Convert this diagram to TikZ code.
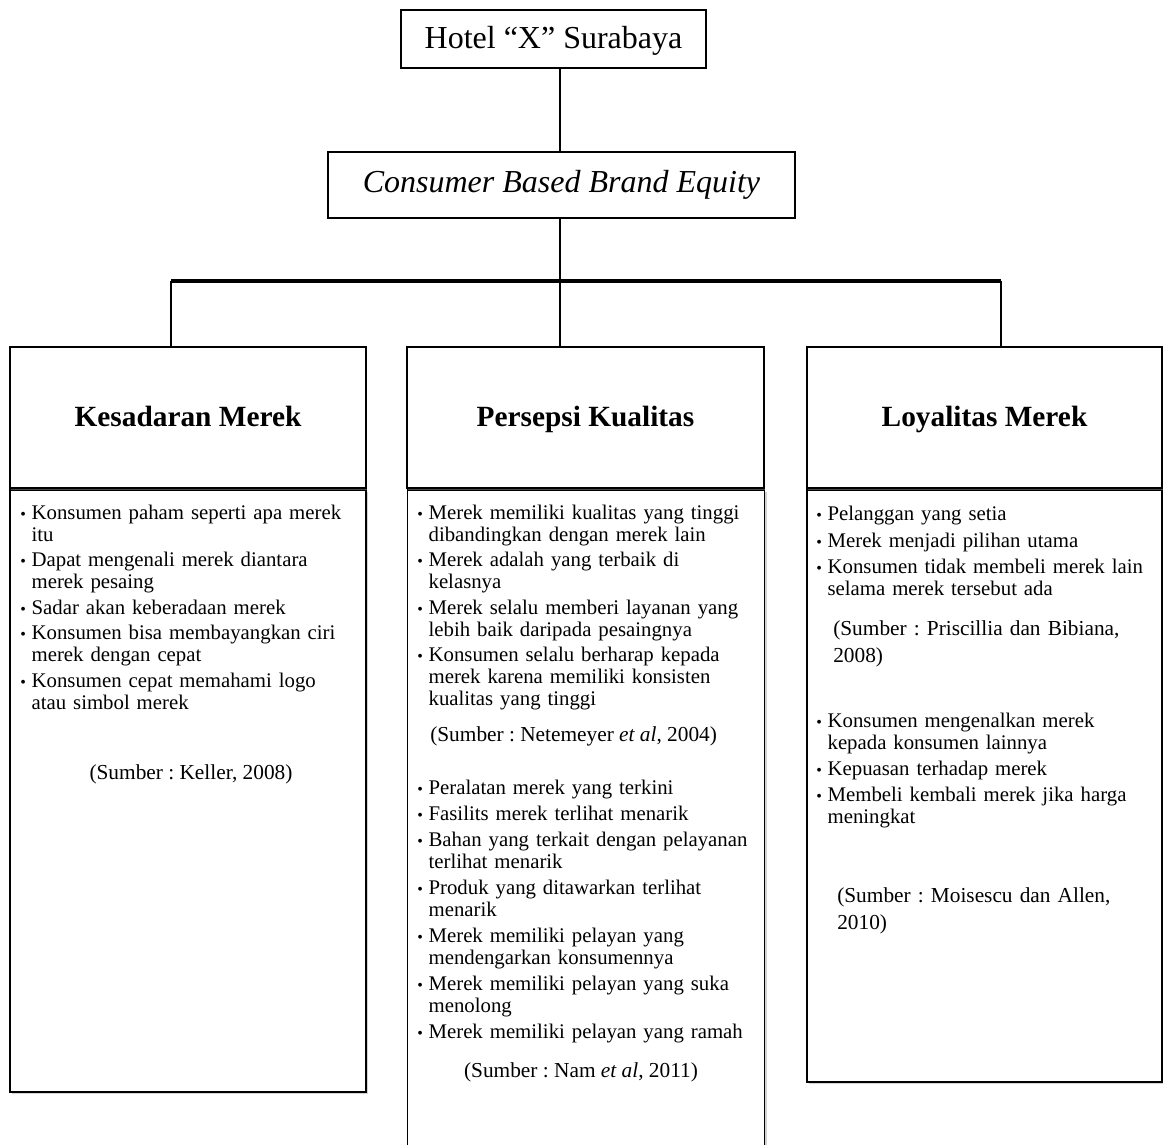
\documentclass[tikz,border=0pt]{standalone}
\usepackage{fontspec}
\setmainfont{Liberation Serif}
\frenchspacing
\usetikzlibrary{shadows}
\tikzset{ top_box/.style = {rectangle, draw, line width=1pt, inner sep=0pt, font=\fontsize{24}{28}\selectfont} }
\tikzset{ dim_head/.style = {rectangle, draw, line width=1.1pt, fill=white, minimum height=105.75pt, text height=19.2pt, text depth=5pt, font=\fontsize{22}{26}\selectfont\bfseries, drop shadow={shadow xshift=1pt, shadow yshift=-1.5pt, fill=black!45}} }
\tikzset{ dim_body/.style = {rectangle, draw, line width=1pt, fill=white, drop shadow={shadow xshift=1.5pt, shadow yshift=-1.5pt, fill=black!35}} }
\tikzset{ ind_list/.style = {anchor=north west, inner sep=0pt, text width=255pt, align=left, font=\fontsize{15.6}{16.5}\selectfont} }
\tikzset{ src_note/.style = {inner sep=0pt, font=\fontsize{16}{20}\selectfont} }
\tikzset{ link/.style = {line width=2.2pt} }
\tikzset{ bar/.style = {line width=3.5pt} }
\newcommand{\bul}[1]{\par\hangindent=8.5pt\hangafter=1\noindent\strut\makebox[8.5pt][l]{\fontsize{12}{12}\selectfont\textbullet}#1\par}

\begin{document}
\begin{tikzpicture}[x=0.75pt, y=-0.75pt]
    \useasboundingbox (0,0) rectangle (1163,1145);
    % top of the tree
    \node[top_box, minimum width=228.75pt, minimum height=43.5pt, text height=20pt, text depth=5pt] (hotel) at (553.5,39) {Hotel “X” Surabaya};
    \node[top_box, minimum width=350.25pt, minimum height=49.5pt] (cbbe) at (561.5,185) {\textit{Consumer Based Brand Equity}};
    % body boxes
    \node[dim_body, minimum width=267pt, minimum height=451.5pt] (kes_body) at (188,791) {};
    \node[dim_body, minimum width=267.75pt, minimum height=496.5pt] (per_body) at (586,821) {};
    \node[dim_body, minimum width=266.25pt, minimum height=444pt] (loy_body) at (984.5,786) {};
    % dimension heads
    \node[dim_head, minimum width=267pt] (kes) at (188,417.5) {Kesadaran Merek};
    \node[dim_head, minimum width=267.75pt] (per) at (585.5,417.5) {Persepsi Kualitas};
    \node[dim_head, minimum width=266.25pt] (loy) at (984.5,417.5) {Loyalitas Merek};
    % connectors
    \coordinate (bar_l) at (171,281);
    \coordinate (bar_m) at (560,281);
    \coordinate (bar_r) at (1001,281);
    \draw[link] (bar_m |- hotel.south) -- (bar_m |- cbbe.north);
    \draw[link] (bar_m |- cbbe.south) -- (bar_m);
    \draw[bar] (bar_l) -- (bar_r);
    \draw[link] (bar_l) -- (bar_l |- kes.north);
    \draw[link] (bar_m) -- (bar_m |- per.north);
    \draw[link] (bar_r) -- (bar_r |- loy.north);
    % indicators
    \node[ind_list] (kes_list) at (20,493.5) {\setlength{\parskip}{2.6pt}%
        \bul{Konsumen paham seperti apa merek\newline itu}
        \bul{Dapat mengenali merek diantara\newline merek pesaing}
        \bul{Sadar akan keberadaan merek}
        \bul{Konsumen bisa membayangkan ciri\newline merek dengan cepat}
        \bul{Konsumen cepat memahami logo\newline atau simbol merek}};
    \node[src_note, anchor=base] (kes_src) at (191,779) {(Sumber : Keller, 2008)};
    \node[ind_list] (per_list_a) at (417,493.5) {\setlength{\parskip}{2.6pt}%
        \bul{Merek memiliki kualitas yang tinggi\newline dibandingkan dengan merek lain}
        \bul{Merek adalah yang terbaik di\newline kelasnya}
        \bul{Merek selalu memberi layanan yang\newline lebih baik daripada pesaingnya}
        \bul{Konsumen selalu berharap kepada\newline merek karena memiliki konsisten\newline kualitas yang tinggi}};
    \node[src_note, anchor=base west] (per_src_a) at (430,741) {(Sumber : Netemeyer \textit{et al}, 2004)};
    \node[ind_list] (per_list_b) at (417,768) {\setlength{\parskip}{3pt}%
        \bul{Peralatan merek yang terkini}
        \bul{Fasilits merek terlihat menarik}
        \bul{Bahan yang terkait dengan pelayanan\newline terlihat menarik}
        \bul{Produk yang ditawarkan terlihat\newline menarik}
        \bul{Merek memiliki pelayan yang\newline mendengarkan konsumennya}
        \bul{Merek memiliki pelayan yang suka\newline menolong}
        \bul{Merek memiliki pelayan yang ramah}};
    \node[src_note, anchor=base] (per_src_b) at (581,1077) {(Sumber : Nam \textit{et al}, 2011)};
    \node[ind_list] (loy_list_a) at (816,493.5) {\setlength{\parskip}{3.5pt}%
        \bul{Pelanggan yang setia}
        \bul{Merek menjadi pilihan utama}
        \bul{Konsumen tidak membeli merek lain\newline selama merek tersebut ada}};
    \node[src_note, anchor=north west, text width=240pt, align=left] (loy_src_a) at (833,617) {\strut(Sumber : Priscillia dan Bibiana,\newline 2008)};
    \node[ind_list] (loy_list_b) at (816,701) {\setlength{\parskip}{3pt}%
        \bul{Konsumen mengenalkan merek\newline kepada konsumen lainnya}
        \bul{Kepuasan terhadap merek}
        \bul{Membeli kembali merek jika harga\newline meningkat}};
    \node[src_note, anchor=north west, text width=240pt, align=left] (loy_src_b) at (837,884) {\strut(Sumber : Moisescu dan Allen,\newline 2010)};
\end{tikzpicture}
\end{document}
